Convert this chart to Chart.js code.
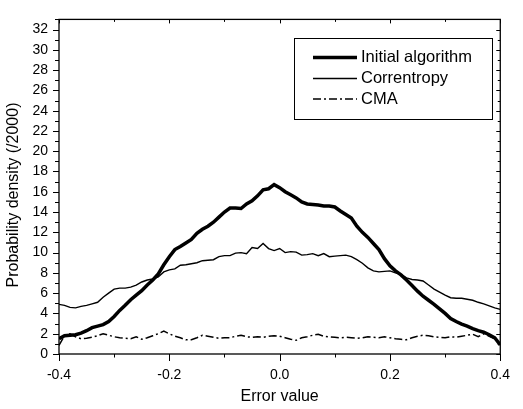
<!DOCTYPE html>
<html>
<head>
<meta charset="utf-8">
<script src="https://cdn.jsdelivr.net/npm/chart.js@4.4.0/dist/chart.umd.min.js"></script>
<style>
  html, body { margin: 0; padding: 0; background: #fff; }
  #wrap { width: 523px; height: 409px; }
</style>
</head>
<body>
<div id="wrap"><canvas id="chart" width="523" height="409"></canvas></div>
<script>
// ===== Data =====
const errorValues = [
  -0.40, -0.39, -0.38, -0.37, -0.36, -0.35, -0.34, -0.33, -0.32, -0.31,
  -0.30, -0.29, -0.28, -0.27, -0.26, -0.25, -0.24, -0.23, -0.22, -0.21,
  -0.20, -0.19, -0.18, -0.17, -0.16, -0.15, -0.14, -0.13, -0.12, -0.11,
  -0.10, -0.09, -0.08, -0.07, -0.06, -0.05, -0.04, -0.03, -0.02, -0.01,
   0.00,  0.01,  0.02,  0.03,  0.04,  0.05,  0.06,  0.07,  0.08,  0.09,
   0.10,  0.11,  0.12,  0.13,  0.14,  0.15,  0.16,  0.17,  0.18,  0.19,
   0.20,  0.21,  0.22,  0.23,  0.24,  0.25,  0.26,  0.27,  0.28,  0.29,
   0.30,  0.31,  0.32,  0.33,  0.34,  0.35,  0.36,  0.37,  0.38,  0.39,
   0.40
];

const initialAlgorithm = [
  1.5, 1.8, 1.85, 1.9, 2.05, 2.3, 2.6, 2.75, 2.9, 3.2,
  3.7, 4.3, 4.8, 5.35, 5.8, 6.25, 6.8, 7.3, 7.9, 8.8,
  9.6, 10.3, 10.6, 10.95, 11.3, 11.9, 12.3, 12.6, 13.0, 13.5,
  14.0, 14.4, 14.4, 14.35, 14.8, 15.1, 15.6, 16.2, 16.3, 16.7,
  16.4, 16.0, 15.7, 15.4, 15.0, 14.8, 14.75, 14.7, 14.6, 14.6,
  14.5, 14.1, 13.75, 13.4, 12.6, 12.0, 11.5, 10.9, 10.3, 9.4,
  8.7, 8.2, 7.8, 7.3, 6.75, 6.2, 5.7, 5.3, 4.9, 4.45,
  4.0, 3.5, 3.2, 2.95, 2.75, 2.5, 2.3, 2.15, 1.9, 1.6,
  0.9
];

const correntropy = [
  4.9, 4.8, 4.6, 4.55, 4.7, 4.8, 4.95, 5.1, 5.6, 6.0,
  6.4, 6.5, 6.5, 6.6, 6.8, 7.1, 7.3, 7.4, 7.6, 8.1,
  8.3, 8.4, 8.75, 8.8, 8.9, 9.0, 9.2, 9.25, 9.3, 9.6,
  9.7, 9.7, 9.95, 10.0, 9.9, 10.5, 10.4, 10.9, 10.4, 10.2,
  10.4, 10.0, 10.1, 10.05, 9.75, 9.8, 9.9, 9.7, 9.9, 9.6,
  9.65, 9.7, 9.75, 9.6, 9.3, 8.95, 8.5, 8.2, 8.1, 8.15,
  8.2, 8.0, 7.85, 7.5, 7.35, 7.3, 7.2, 6.8, 6.4, 6.1,
  5.8, 5.55, 5.5, 5.5, 5.4, 5.3, 5.1, 4.95, 4.75, 4.55,
  4.4
];

const cma = [
  0.85, 1.8, 2.0, 1.7, 1.5, 1.55, 1.65, 1.8, 2.0, 1.85,
  1.7, 1.6, 1.55, 1.5, 1.7, 1.45, 1.6, 1.8, 2.0, 2.25,
  2.0, 1.75, 1.6, 1.4, 1.4, 1.6, 1.85, 1.75, 1.65, 1.55,
  1.6, 1.6, 1.75, 1.85, 1.7, 1.65, 1.7, 1.65, 1.75, 1.8,
  1.75, 1.6, 1.45, 1.35, 1.6, 1.7, 1.85, 1.95, 1.75, 1.7,
  1.65, 1.6, 1.65, 1.6, 1.55, 1.6, 1.7, 1.65, 1.6, 1.7,
  1.6, 1.5, 1.45, 1.4, 1.6, 1.75, 1.85, 1.8, 1.7, 1.65,
  1.6, 1.7, 1.65, 1.75, 1.85, 1.95, 1.7, 2.0, 1.75, 1.5,
  1.0
];

const seriesNames = ['Initial algorithm', 'Correntropy', 'CMA'];
const xTitle = 'Error value';
const yTitle = 'Probability density (/2000)';

// ===== Helpers =====
const FONT = '"Liberation Sans", Arial, sans-serif';
const toPoints = arr => arr.map((v, i) => ({ x: errorValues[i], y: v }));
const isMajorX = v => Math.round(v * 10) % 2 === 0;
const isMajorY = v => Math.round(v) % 2 === 0 && v <= 32;

// ===== Frame, ticks, titles and legend =====
const framePlugin = {
  id: 'frame',
  afterDraw(chart) {
    const ctx = chart.ctx;
    const a = chart.chartArea;
    const xs = chart.scales.x, ys = chart.scales.y;
    ctx.save();
    ctx.strokeStyle = '#000';
    ctx.lineWidth = 1.3;
    ctx.strokeRect(a.left, a.top, a.right - a.left, a.bottom - a.top);

    ctx.lineWidth = 1;
    ctx.beginPath();
    xs.ticks.forEach(t => {
      const px = Math.round(xs.getPixelForValue(t.value)) + 0.5;
      const major = isMajorX(t.value);
      ctx.moveTo(px, a.bottom);
      ctx.lineTo(px, a.bottom + (major ? 7 : 3.5));
      ctx.moveTo(px, a.top);
      ctx.lineTo(px, a.top + (major ? 4 : 2.5));
    });
    ys.ticks.forEach(t => {
      const py = Math.round(ys.getPixelForValue(t.value)) + 0.5;
      const major = isMajorY(t.value);
      ctx.moveTo(a.left, py);
      ctx.lineTo(a.left - (major ? 6 : 4), py);
      ctx.moveTo(a.right, py);
      ctx.lineTo(a.right - (major ? 4 : 2.5), py);
    });
    ctx.stroke();

    // axis titles
    ctx.fillStyle = '#000';
    ctx.font = '16px ' + FONT;
    ctx.textAlign = 'center';
    ctx.textBaseline = 'middle';
    ctx.fillText(xTitle, (a.left + a.right) / 2, 397);
    ctx.save();
    ctx.translate(14, 195);
    ctx.rotate(-Math.PI / 2);
    ctx.fillText(yTitle, 0, 0);
    ctx.restore();

    // legend box
    const lx = 294.5, ly = 38.5, lw = 198, lh = 81;
    ctx.lineWidth = 1;
    ctx.strokeRect(lx, ly, lw, lh);
    const rows = [57.5, 78.5, 99];
    ctx.font = '16.5px ' + FONT;
    chart.data.datasets.forEach((ds, i) => {
      ctx.save();
      ctx.strokeStyle = '#000';
      ctx.lineWidth = i === 0 ? 3.4 : 1.4;
      ctx.setLineDash(ds.borderDash || []);
      ctx.beginPath();
      ctx.moveTo(313, rows[i]);
      ctx.lineTo(357, rows[i]);
      ctx.stroke();
      ctx.restore();
      ctx.textAlign = 'left';
      ctx.fillText(ds.label, 361, rows[i]);
    });
    ctx.restore();
  }
};

new Chart(document.getElementById('chart'), {
  type: 'line',
  data: {
    datasets: [
      { label: seriesNames[0], data: toPoints(initialAlgorithm), borderColor: '#000', borderWidth: 3.5 },
      { label: seriesNames[1], data: toPoints(correntropy), borderColor: '#000', borderWidth: 1.4 },
      { label: seriesNames[2], data: toPoints(cma), borderColor: '#000', borderWidth: 1.5, borderDash: [8, 3, 2, 3] }
    ]
  },
  options: {
    responsive: false,
    animation: false,
    devicePixelRatio: 1,
    layout: { padding: { left: 0, right: 8, top: 11, bottom: 0 } },
    elements: { point: { radius: 0 }, line: { tension: 0 } },
    plugins: { legend: { display: false }, tooltip: { enabled: false } },
    scales: {
      x: {
        type: 'linear', min: -0.4, max: 0.4,
        grid: { display: false, drawTicks: false },
        border: { display: false },
        ticks: {
          stepSize: 0.1, autoSkip: false, maxRotation: 0, padding: 13,
          color: '#000', font: { family: FONT, size: 14 },
          callback: v => isMajorX(v) ? (Math.round(v * 10) / 10).toFixed(1) : ''
        },
        afterFit: s => { s.height = 55; }
      },
      y: {
        min: 0, max: 33,
        grid: { display: false, drawTicks: false },
        border: { display: false },
        ticks: {
          stepSize: 1, autoSkip: false, padding: 11,
          color: '#000', font: { family: FONT, size: 14 },
          callback: v => isMajorY(v) ? String(v) : ''
        },
        afterFit: s => { s.width = 59; }
      }
    }
  },
  plugins: [framePlugin]
});
</script>
</body>
</html>
